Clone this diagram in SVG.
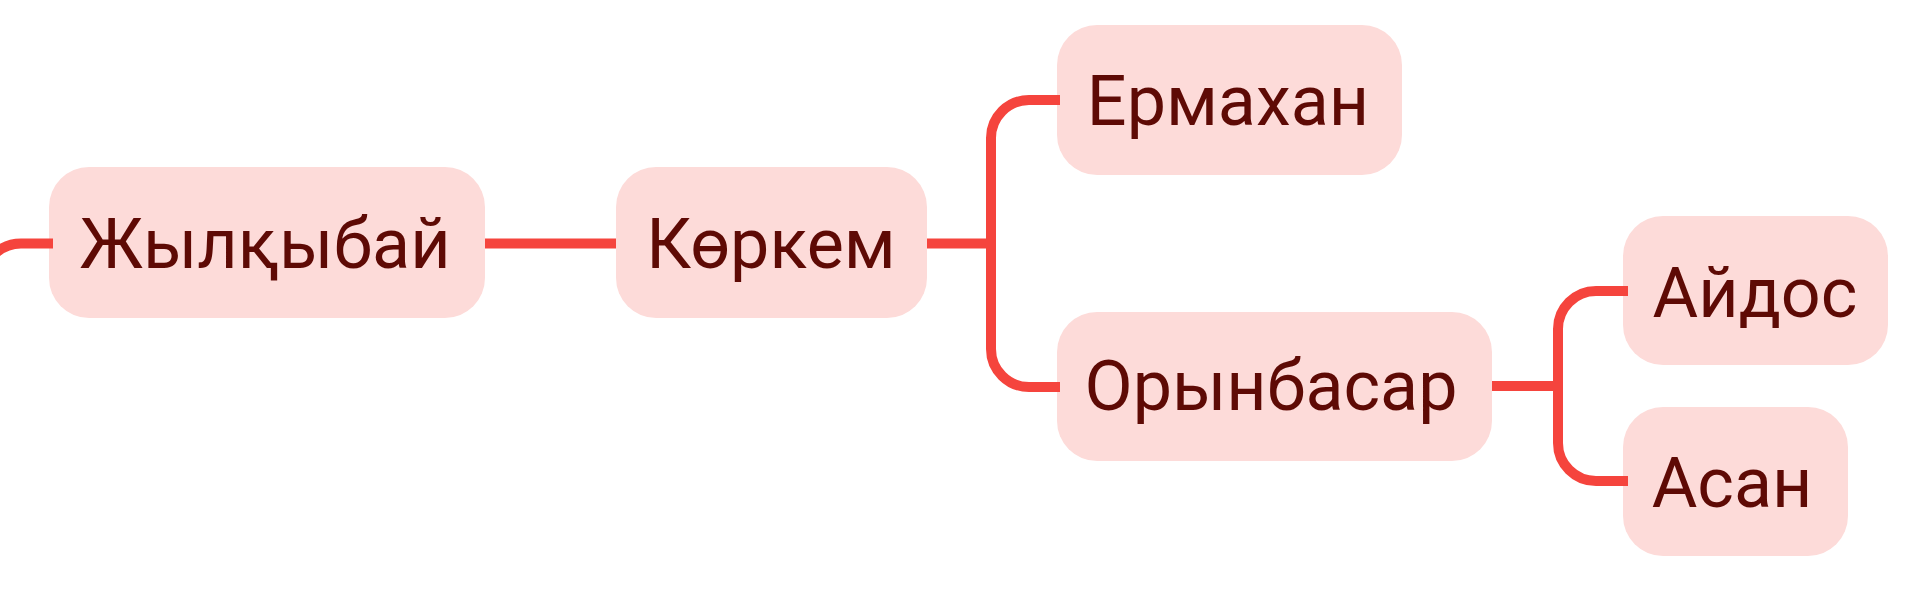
<svg xmlns="http://www.w3.org/2000/svg" width="1909" height="604" viewBox="0 0 1909 604">
  <style>
    .box { fill: #fddbd9; }
    .lbl { font-family: Roboto, "Noto Sans", "DejaVu Sans", sans-serif; font-size: 70px; fill: #5e0a05; text-anchor: middle; }
    .conn { fill: none; stroke: #f5443d; stroke-width: 10; }
  </style>
  <rect width="1909" height="604" fill="#ffffff"/>
  <g id="node-zhylkybai">
    <rect class="box" x="49" y="167" width="436" height="151" rx="40"/>
    <text class="lbl" x="265" y="268">Жылқыбай</text>
  </g>
  <g id="node-korkem">
    <rect class="box" x="616" y="167" width="311" height="151" rx="40"/>
    <text class="lbl" x="771" y="268">Көркем</text>
  </g>
  <g id="node-ermakhan">
    <rect class="box" x="1057" y="25" width="345" height="150" rx="40"/>
    <text class="lbl" x="1228" y="125">Ермахан</text>
  </g>
  <g id="node-orynbasar">
    <rect class="box" x="1057" y="312" width="435" height="149" rx="40"/>
    <text class="lbl" x="1271" y="410">Орынбасар</text>
  </g>
  <g id="node-aidos">
    <rect class="box" x="1623" y="216" width="265" height="149" rx="40"/>
    <text class="lbl" x="1755" y="317">Айдос</text>
  </g>
  <g id="node-asan">
    <rect class="box" x="1623" y="407" width="225" height="149" rx="40"/>
    <text class="lbl" x="1732" y="507">Асан</text>
  </g>
  <g id="connectors">
    <path class="conn" d="M -17 320 V 281.5 A 38 38 0 0 1 21 243.5 H 53"/>
    <path class="conn" d="M 485 243.5 H 616"/>
    <path class="conn" d="M 927 243.5 H 991"/>
    <path class="conn" d="M 1060 100 H 1029 A 38 38 0 0 0 991 138 V 349 A 38 38 0 0 0 1029 387 H 1060"/>
    <path class="conn" d="M 1492 386 H 1558"/>
    <path class="conn" d="M 1628 291 H 1596 A 38 38 0 0 0 1558 329 V 443 A 38 38 0 0 0 1596 481 H 1628"/>
  </g>
</svg>
